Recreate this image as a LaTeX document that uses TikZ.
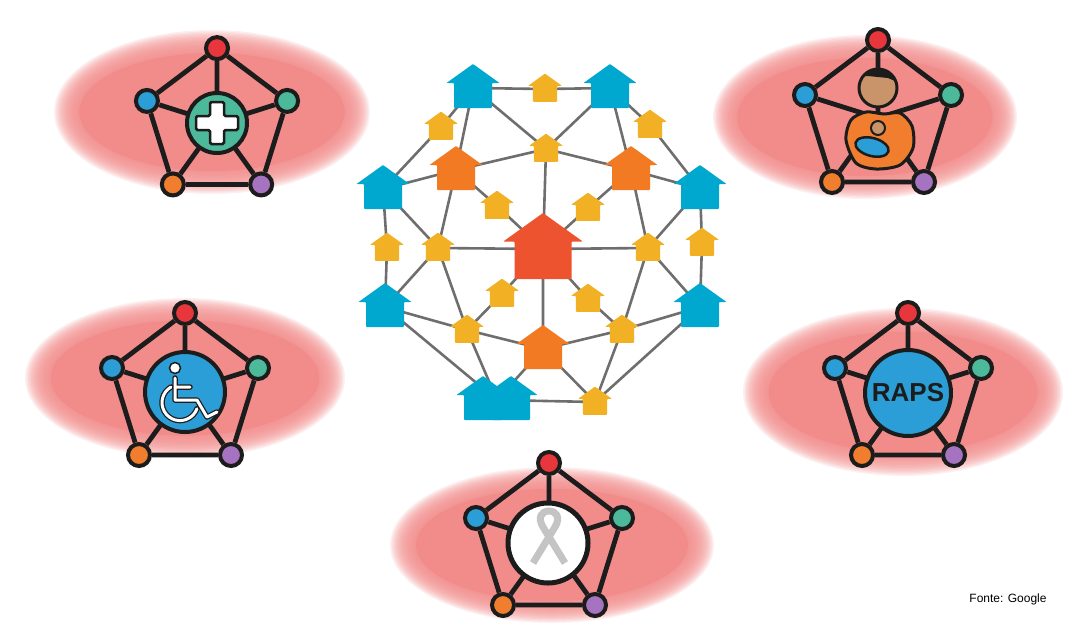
\documentclass[tikz,border=0pt]{standalone}
\usepackage{fontspec}
\setmainfont{Liberation Sans}
\usetikzlibrary{positioning}
\definecolor{blobpink}{HTML}{F18C8B}
\definecolor{netgray}{HTML}{6E6E6E}
\definecolor{hsblue}{HTML}{00A8CF}
\definecolor{hsorange}{HTML}{F27A22}
\definecolor{hsred}{HTML}{EE5330}
\definecolor{hsyellow}{HTML}{F2B124}
\definecolor{hubink}{HTML}{1C1C1C}
\definecolor{hubred}{HTML}{E8373C}
\definecolor{hubblue}{HTML}{2B9ED8}
\definecolor{hubteal}{HTML}{4DB99B}
\definecolor{huborange}{HTML}{F07E2E}
\definecolor{hubpurple}{HTML}{A673C1}
\definecolor{skin}{HTML}{C9946A}
\definecolor{ribbongray}{HTML}{C4C4C4}

% house marker: anchor, colour, scale
\newcommand{\house}[3]{%
  \fill[#2, rounded corners=0.8pt, shift={(#1)}, scale=#3]
    (-26.5,-5) -- (0,-24) -- (26.5,-5) -- (19,-5) -- (19,20) -- (-19,20) -- (-19,-5) -- cycle;}

% soft pink halo: x, y, x radius, y radius
\newcommand{\halo}[4]{%
  \foreach \k in {0,...,17}
    \fill[blobpink, opacity=0.13] (#1,#2) ellipse ({#3*(1-0.009*\k)} and {#4*(1-0.016*\k)});
  \fill[blobpink] (#1,#2) ellipse ({0.84*#3} and {0.72*#4});}

% pentagon of five services: prefix, x, y, scale
\newcommand{\hubframe}[4]{%
  \begin{scope}[shift={(#2,#3)}, scale=#4]
    \coordinate (#1c) at (0,0);
    \node[hubdot, fill=hubred]    (#1t)  at (0,-78) {};
    \node[hubdot, fill=hubblue]   (#1l)  at (-73,-23) {};
    \node[hubdot, fill=hubteal]   (#1r)  at (73,-23) {};
    \node[hubdot, fill=huborange] (#1bl) at (-46,64) {};
    \node[hubdot, fill=hubpurple] (#1br) at (46,64) {};
  \end{scope}
  \draw[hubline] (#1t) -- (#1r) -- (#1br) -- (#1bl) -- (#1l) -- (#1t);
  \draw[hubline] (#1c) -- (#1t) (#1c) -- (#1l) (#1c) -- (#1r) (#1c) -- (#1bl) (#1c) -- (#1br);}

\begin{document}
\begin{tikzpicture}[x=1pt, y=-1pt,
  net/.style={draw=netgray, line width=2.6pt},
  hubline/.style={draw=hubink, line width=4.8pt},
  hubdot/.style={circle, draw=hubink, line width=4pt, minimum size=22pt, inner sep=0pt},
  hubcore/.style={circle, draw=hubink, line width=4pt, inner sep=0pt},
  iconline/.style={draw=hubink, line width=5.5pt, line cap=round, line join=round},
  iconwhite/.style={draw=white, line width=3pt, line cap=round, line join=round}]

% Canvas
\useasboundingbox (0,0) rectangle (1067,625);

% Pink halos behind the services
\halo{212}{112}{158}{82}
\halo{865}{117}{152}{82}
\halo{185}{378}{160}{80}
\halo{903}{392}{160}{84}
\halo{552}{545}{162}{78}

% Network anchors
\coordinate (b1) at (473,88);
\coordinate (b2) at (610,88);
\coordinate (b3) at (383,189);
\coordinate (b4) at (700,189);
\coordinate (b5) at (385,307);
\coordinate (b6) at (700,307);
\coordinate (b7) at (497,400);
\coordinate (o1) at (456,170);
\coordinate (o2) at (631,170);
\coordinate (o3) at (543,349);
\coordinate (r)  at (543,249);
\coordinate (y1) at (545,89);
\coordinate (y2) at (441,127);
\coordinate (y3) at (650,125);
\coordinate (y4) at (546,149);
\coordinate (y5) at (497,206);
\coordinate (y6) at (588,208);
\coordinate (y7) at (387,248);
\coordinate (y8) at (438,248);
\coordinate (y9) at (648,248);
\coordinate (y10) at (702,243);
\coordinate (y11) at (502,294);
\coordinate (y12) at (588,299);
\coordinate (y13) at (467,330);
\coordinate (y14) at (622,330);
\coordinate (y15) at (595,402);

% Links
\draw[net] (b1) -- (y1) -- (b2)
  (b1) -- (y2) -- (b3)  (b1) -- (o1)  (b1) -- (y4) -- (b2)
  (b2) -- (o2)  (b2) -- (y3) -- (b4)
  (o1) -- (y4) -- (o2)  (y4) -- (r)
  (o1) -- (b3)  (o1) -- (y5) -- (r)  (o1) -- (y8)
  (o2) -- (b4)  (o2) -- (y6) -- (r)  (o2) -- (y9)
  (b3) -- (y7) -- (b5)
  (b3) -- (y8) -- (r) -- (y9) -- (b4)
  (b4) -- (y10) -- (b6)
  (y8) -- (b5)  (y8) -- (y13)  (y9) -- (y14)  (y9) -- (b6)
  (r) -- (y11) -- (y13)  (r) -- (y12) -- (y14)  (r) -- (o3)
  (b5) -- (y13) -- (o3) -- (y14) -- (b6)
  (b5) -- (b7)  (y13) -- (b7)  (o3) -- (b7)  (o3) -- (y15)
  (y14) -- (y15)  (b6) -- (y15) -- (b7);

% Houses
\house{b1}{hsblue}{1}
\house{b2}{hsblue}{1}
\house{b3}{hsblue}{1}
\house{b4}{hsblue}{1}
\house{b5}{hsblue}{1}
\house{b6}{hsblue}{1}
\house{483,400}{hsblue}{1}
\house{511,400}{hsblue}{1}
\house{o1}{hsorange}{1}
\house{o2}{hsorange}{1}
\house{o3}{hsorange}{1}
\house{y1}{hsyellow}{0.64}
\house{y2}{hsyellow}{0.64}
\house{y3}{hsyellow}{0.64}
\house{y4}{hsyellow}{0.64}
\house{y5}{hsyellow}{0.64}
\house{y6}{hsyellow}{0.64}
\house{y7}{hsyellow}{0.64}
\house{y8}{hsyellow}{0.64}
\house{y9}{hsyellow}{0.64}
\house{y10}{hsyellow}{0.64}
\house{y11}{hsyellow}{0.64}
\house{y12}{hsyellow}{0.64}
\house{y13}{hsyellow}{0.64}
\house{y14}{hsyellow}{0.64}
\house{y15}{hsyellow}{0.64}
\house{r}{hsred}{1.5}

% Health unit
\hubframe{ha}{217}{123}{0.96}
\node[hubcore, fill=hubteal, minimum size=60pt] (hacore) at (217,123) {};
\draw[hubink, fill=white, line width=2.5pt, rounded corners=1.5pt]
  (210,102) -- (224,102) -- (224,116) -- (238,116) -- (238,130) -- (224,130) -- (224,144)
  -- (210,144) -- (210,130) -- (196,130) -- (196,116) -- (210,116) -- cycle;

% Mother and child
\hubframe{hb}{878}{118}{1}
\draw[hubink, fill=huborange, line width=3pt] plot[smooth cycle] coordinates
  {(846,140) (851,120) (866,112) (884,114) (900,113) (912,126) (913,148) (900,165) (876,169) (856,163)};
\draw[hubink, fill=skin, line width=3pt] (878,88) circle (19);
\begin{scope}
  \clip (878,88) circle (19);
  \fill[hubink] (855,64) -- (902,64) -- (902,84) -- (888,78) -- (868,76) -- (855,76) -- cycle;
\end{scope}
\draw[hubink, fill=skin, line width=2pt] (878,128) circle (7);
\draw[hubink, fill=hubblue, line width=2.5pt, rotate around={-15:(872,147)}] (872,147) ellipse (17 and 9);

% Accessibility
\hubframe{hc}{185}{391}{1}
\node[hubcore, fill=hubblue, minimum size=80pt] (hccore) at (185,392) {};
\draw[iconline] (171,387) arc[start angle=-120, end angle=-340, radius=18];
\draw[iconwhite] (171,387) arc[start angle=-120, end angle=-340, radius=18];
\draw[iconline] (175,378) -- (175,400) -- (197,400) -- (207,417) -- (217,412) (175,387) -- (190,387);
\draw[iconwhite] (175,378) -- (175,400) -- (197,400) -- (207,417) -- (217,412) (175,387) -- (190,387);
\fill[white, draw=hubink, line width=1.5pt] (175,368) circle (5.5);

% Psychosocial care
\hubframe{hd}{908}{391}{1}
\node[hubcore, fill=hubblue, minimum size=86pt, text=hubink,
  font=\bfseries\fontsize{26}{26}\selectfont] (hdcore) at (908,393) {RAPS};

% HIV care
\hubframe{he}{549}{541}{1}
\node[hubcore, fill=white, line width=5pt, minimum size=80pt] (hecore) at (548,543) {};
\draw[ribbongray, line width=7pt] (533,563) -- (555,527) .. controls (561,517) and (556,511) .. (549,511)
  .. controls (542,511) and (537,517) .. (543,527) -- (565,563);

% Source
\node[font=\fontsize{12}{14}\selectfont, text=black] (src) at (1008,599) {Fonte: Google};

\end{tikzpicture}
\end{document}
